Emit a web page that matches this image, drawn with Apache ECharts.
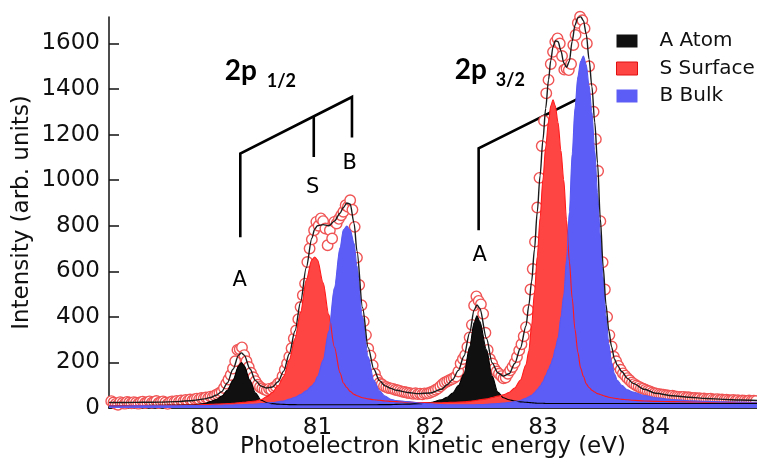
<!DOCTYPE html>
<html><head><meta charset="utf-8">
<script src="https://cdn.jsdelivr.net/npm/echarts@6/dist/echarts.min.js"></script>
<style>html,body{margin:0;padding:0;background:#fff}#c{width:757px;height:462px}</style>
</head><body><div id="c"></div>
<script>
// ---- fitted component curves ----
const energy = [
79.15,79.3,79.45,79.6,79.75,79.9,80.0,80.05,80.1,80.15,
80.2,80.25,80.3,80.325,80.35,80.4,80.45,80.5,80.55,80.6,
80.65,80.7,80.75,80.8,80.85,80.9,80.95,80.975,81.0,81.05,
81.1,81.15,81.2,81.23,81.26,81.29,81.325,81.35,81.4,81.45,
81.5,81.55,81.6,81.65,81.7,81.8,81.9,82.0,82.1,82.15,
82.2,82.25,82.3,82.35,82.39,82.415,82.44,82.5,82.55,82.6,
82.65,82.7,82.75,82.8,82.85,82.875,82.9,82.925,82.95,82.975,
83.0,83.025,83.05,83.07,83.09,83.11,83.135,83.16,83.185,83.21,
83.235,83.26,83.285,83.31,83.335,83.36,83.385,83.41,83.435,83.46,
83.485,83.51,83.535,83.56,83.585,83.61,83.635,83.66,83.7,83.75,
83.8,83.9,84.0,84.15,84.3,84.45,84.6,84.75,84.9];
const atom = [
10,11,11,12,13,14,20,28,37,52,
78,122,185,200,185,122,66,34,24,19,
17,16,15,15,14,14,14,14,14,14,
14,14,14,14,14,14,14,14,14,14,
14,15,15,15,16,17,19,24,36,47,
66,98,150,268,375,405,380,255,140,70,
45,36,31,27,25,24,23,22,21,21,
21,20,20,20,20,20,20,20,20,20,
20,20,20,20,20,20,20,20,20,20,
20,20,20,20,20,20,20,20,20,20,
20,20,20,20,20,20,20,20,20];
const surface = [
10,10,11,11,12,13,15,16,17,18,
19,21,23,24,25,28,31,37,50,68,
98,138,212,305,420,560,650,663,650,550,
410,268,155,110,90,73,60,54,45,40,
36,34,31,29,28,26,24,23,23,24,
25,26,27,29,32,34,36,40,46,52,
58,68,88,122,190,250,362,505,664,833,
1002,1145,1258,1326,1353,1326,1252,1130,1002,826,
644,482,345,245,175,138,106,90,78,70,
63,59,55,51,47,45,43,41,38,36,
34,31,29,28,27,26,25,24,24];
const bulk = [
9,9,10,10,10,11,11,11,12,12,
13,13,14,14,15,16,17,19,21,24,
27,31,39,47,59,75,97,112,138,210,
337,528,703,782,798,782,722,623,400,225,
122,75,52,38,33,28,22,18,15,14,
14,14,14,14,14,15,15,16,18,19,
22,24,28,33,43,49,56,67,81,96,
115,143,170,192,220,261,308,400,495,650,
860,1115,1315,1453,1522,1545,1506,1414,1298,1129,
944,759,574,405,281,200,150,122,100,80,
70,55,45,37,32,29,27,26,25];
const fit = [
24,24,25,26,28,33,40,46,56,72,
110,170,232,242,232,172,120,96,88,92,
115,162,238,338,465,615,745,785,800,805,
800,820,855,880,900,895,810,690,440,265,
170,120,97,86,78,68,63,66,82,102,
125,165,228,330,430,452,438,305,198,155,
140,150,195,262,360,450,555,695,860,1020,
1175,1315,1440,1525,1585,1612,1608,1568,1515,1495,
1522,1610,1680,1712,1718,1700,1640,1530,1410,1255,
1075,830,620,455,340,268,215,188,160,130,
108,82,65,54,47,42,38,35,33];

// ---- measured points ----
const dataEnergy = [
79.17,79.19,79.21,79.23,79.25,79.27,79.29,79.31,79.33,79.35,
79.37,79.39,79.41,79.43,79.45,79.47,79.49,79.51,79.53,79.55,
79.57,79.59,79.61,79.63,79.65,79.67,79.69,79.71,79.73,79.75,
79.77,79.79,79.81,79.83,79.85,79.87,79.89,79.91,79.93,79.95,
79.97,79.99,
80.01,80.03,80.05,80.07,80.09,80.11,80.13,80.15,80.17,80.19,
80.21,80.23,80.25,80.27,80.29,80.31,80.33,80.35,80.37,80.39,
80.41,80.43,80.45,80.47,80.49,80.51,80.53,80.55,80.57,80.59,
80.61,80.63,80.65,80.67,80.69,80.71,80.73,80.75,80.77,80.79,
80.81,80.83,80.85,80.87,80.89,80.91,80.93,80.95,80.97,80.99,
81.01,81.03,81.05,81.07,81.09,81.11,81.13,81.15,81.17,81.19,
81.21,81.23,81.25,81.27,81.29,81.31,81.33,81.35,81.37,81.39,
81.41,81.43,81.45,81.47,81.49,81.51,81.53,81.55,81.57,81.59,
81.61,81.63,81.65,81.67,81.69,81.71,81.73,81.75,81.77,81.79,
81.81,81.83,81.85,81.87,81.89,81.91,81.93,81.95,81.97,81.99,
82.01,82.03,82.05,82.07,82.09,82.11,82.13,82.15,82.17,82.19,
82.21,82.23,82.25,82.27,82.29,82.31,82.33,82.35,82.37,82.39,
82.41,82.43,82.45,82.47,82.49,82.51,82.53,82.55,82.57,82.59,
82.61,82.63,82.65,82.67,82.69,82.71,82.73,82.75,82.77,82.79,
82.81,82.83,82.85,82.87,82.89,82.91,82.93,82.95,82.97,82.99,
83.01,83.03,83.05,83.07,83.09,83.11,83.13,83.15,83.17,83.19,
83.21,83.23,83.25,83.27,83.29,83.31,83.33,83.35,83.37,83.39,
83.41,83.43,83.45,83.47,83.49,83.51,83.53,83.55,83.57,83.59,
83.61,83.63,83.65,83.67,83.69,83.71,83.73,83.75,83.77,83.79,
83.81,83.83,83.85,83.87,83.89,83.91,83.93,83.95,83.97,83.99,
84.01,84.03,84.05,84.07,84.09,84.11,84.13,84.15,84.17,84.19,
84.21,84.23,84.25,84.27,84.29,84.31,84.33,84.35,84.37,84.39,
84.41,84.43,84.45,84.47,84.49,84.51,84.53,84.55,84.57,84.59,
84.61,84.63,84.65,84.67,84.69,84.71,84.73,84.75,84.77,84.79,
84.81,84.83,84.85,84.87,84.89];
const dataIntensity = [
30,24,18,14,26,22,19,27,24,21,
26,23,19,25,28,22,25,29,23,27,
31,22,26,29,24,18,25,29,27,31,
26,33,29,35,31,37,33,39,41,38,
44,42,
46,43,50,48,55,60,66,72,88,107,
125,145,173,205,255,258,266,232,205,180,
155,135,118,102,92,86,81,78,84,80,
90,94,108,114,140,168,195,225,262,305,
340,390,443,495,546,641,700,740,780,817,
800,832,820,788,714,780,744,817,810,830,
846,861,890,883,912,870,795,660,540,451,
380,320,261,230,187,150,125,110,104,96,
92,88,86,84,80,78,75,72,70,68,
66,64,62,65,61,63,60,64,63,66,
70,74,80,86,95,104,112,116,122,126,
132,138,160,195,215,232,268,310,365,450,
490,470,455,414,330,255,215,195,173,160,
150,140,130,134,150,165,180,198,224,253,
280,315,355,430,520,610,730,880,1010,1150,
1260,1381,1440,1510,1563,1607,1622,1600,1545,1485,
1490,1483,1510,1593,1637,1690,1717,1702,1666,1600,
1500,1400,1300,1180,1040,820,640,520,400,320,
270,225,205,185,168,152,142,131,122,112,
105,99,94,88,85,80,76,73,68,65,
63,61,59,58,56,55,53,54,51,50,
49,48,49,46,47,45,43,44,42,43,
40,42,39,40,41,38,37,39,36,37,
35,36,34,33,35,32,34,31,33,32,
30,33,31,32,30];

// ---- axes ----
const xTicks = [80, 81, 82, 83, 84];
const yTicks = [0, 200, 400, 600, 800, 1000, 1200, 1400, 1600];
const seriesNames = ['A Atom', 'S Surface', 'B Bulk'];

// ---- annotations (data coordinates) ----
const bracketPaths = [
  [[80.315, 749], [80.315, 1117], [81.306, 1365], [81.306, 1187]],
  [[80.967, 1280], [80.967, 1102]],
  [[82.43, 780], [82.43, 1140], [83.39, 1377], [83.39, 1206]],
  [[83.095, 1304], [83.095, 1118]]
];
const peakLetters = [['A', 80.31, 561], ['S', 80.958, 969], ['B', 81.286, 1074],
                     ['A', 82.439, 670], ['S', 83.054, 982], ['B', 83.376, 1088]];
const levelBig = [['2p', 80.177, 1478], ['2p', 82.217, 1483]];
const levelSub = [['1/2', 80.55, 1434], ['3/2', 82.581, 1439]];

const pair = ys => energy.map((x, i) => [x, ys[i]]);
const FONT = 'DejaVu Sans';
const colA = '#101010', colS = '#ff4444', colB = '#5c5cf6';

function areaSeries(name, ys, fill, line) {
  return {
    type: 'line', name: name, data: pair(ys), smooth: 0.3, smoothMonotone: 'x',
    symbol: 'none', showSymbol: false,
    lineStyle: { color: line, width: 1.1 },
    areaStyle: { color: fill, opacity: 1 },
    itemStyle: { color: fill }, emphasis: { disabled: true }
  };
}
function textSeries(name, items, label) {
  return {
    type: 'scatter', name: name, symbolSize: 0, silent: true,
    itemStyle: { opacity: 1, color: 'transparent' },
    data: items.map(p => ({ value: [p[1], p[2]], name: p[0] })),
    label: Object.assign({ show: true, position: 'inside', formatter: p => p.name, opacity: 1 }, label)
  };
}

const chart = echarts.init(document.getElementById('c'), null, { renderer: 'canvas' });
chart.setOption({
  animation: false,
  backgroundColor: '#fff',
  grid: { left: 109, right: 0, top: 17, bottom: 54, containLabel: false, outerBoundsMode: 'none' },
  legend: {
    show: true, orient: 'vertical', left: 616, top: 31, padding: 0,
    itemWidth: 21, itemHeight: 13, itemGap: 7.5, selectedMode: false, icon: 'rect',
    textStyle: { fontFamily: FONT, fontSize: 20, color: '#111', padding: [0, 0, 0, 17] },
    data: [
      { name: seriesNames[0], itemStyle: { color: colA } },
      { name: seriesNames[1], itemStyle: { color: colS, borderColor: '#e01010', borderWidth: 1 } },
      { name: seriesNames[2], itemStyle: { color: colB } }
    ]
  },
  xAxis: [{
    type: 'value', min: 79.15, max: 84.9,
    name: 'Photoelectron kinetic energy (eV)', nameLocation: 'middle', nameGap: 28,
    nameMoveOverlap: false,
    nameTextStyle: { fontFamily: FONT, fontSize: 23, color: '#111' },
    axisLine: { show: true, onZero: false, lineStyle: { color: '#222', width: 1.5 } },
    axisTick: { show: true, inside: true, length: 5, customValues: xTicks, lineStyle: { color: '#333', width: 1 } },
    axisLabel: { show: true, customValues: xTicks, margin: 9, fontFamily: FONT, fontSize: 23, color: '#111',
                 formatter: v => String(v) },
    splitLine: { show: false }
  }, {
    type: 'value', position: 'top', min: 79.15, max: 84.9,
    axisLine: { show: true, lineStyle: { color: '#222', width: 1.5 } },
    axisTick: { show: false }, axisLabel: { show: false }, splitLine: { show: false }
  }],
  yAxis: {
    type: 'value', min: 0, max: 1716,
    name: 'Intensity (arb. units)', nameLocation: 'middle', nameGap: 75,
    nameMoveOverlap: false,
    nameTextStyle: { fontFamily: FONT, fontSize: 23, color: '#111' },
    axisLine: { show: true, onZero: false, lineStyle: { color: '#111', width: 1.5 } },
    axisTick: { show: true, inside: true, length: 10, customValues: yTicks, lineStyle: { color: '#111', width: 1.5 } },
    axisLabel: { show: true, customValues: yTicks, margin: 9, fontFamily: FONT, fontSize: 23, color: '#111',
                 formatter: v => String(v) },
    splitLine: { show: false }
  },
  series: [
    areaSeries(seriesNames[0], atom, colA, '#000'),
    areaSeries(seriesNames[1], surface, colS, '#ff1a1a'),
    areaSeries(seriesNames[2], bulk, colB, '#5757f2'),
    {
      type: 'line', name: 'fit', data: pair(fit), smooth: 0.3, smoothMonotone: 'x',
      symbol: 'none', showSymbol: false, lineStyle: { color: '#1a1a1a', width: 1.4 },
      emphasis: { disabled: true }
    },
    {
      type: 'scatter', name: 'data', data: dataEnergy.map((x, i) => [x, dataIntensity[i]]),
      symbol: 'circle', symbolSize: 10.5, clip: false,
      itemStyle: { color: '#ffffff', borderColor: '#f05454', borderWidth: 1.4, opacity: 1 },
      emphasis: { disabled: true }
    },
    {
      type: 'lines', name: 'brackets', coordinateSystem: 'cartesian2d', polyline: true,
      data: bracketPaths.map(c => ({ coords: c })),
      lineStyle: { color: '#000', width: 2.6, opacity: 1 }, emphasis: { disabled: true }
    },
    textSeries('letters', peakLetters, { fontFamily: FONT, fontSize: 21, color: '#000' }),
    textSeries('levels', levelBig, { align: 'left', verticalAlign: 'middle',
      fontFamily: 'Lato', fontWeight: 'bold', fontSize: 28, color: '#000' }),
    textSeries('levelsSub', levelSub, { align: 'left', verticalAlign: 'middle',
      fontFamily: 'Lato', fontWeight: 'bold', fontSize: 18, color: '#000' })
  ]
});
</script></body></html>
